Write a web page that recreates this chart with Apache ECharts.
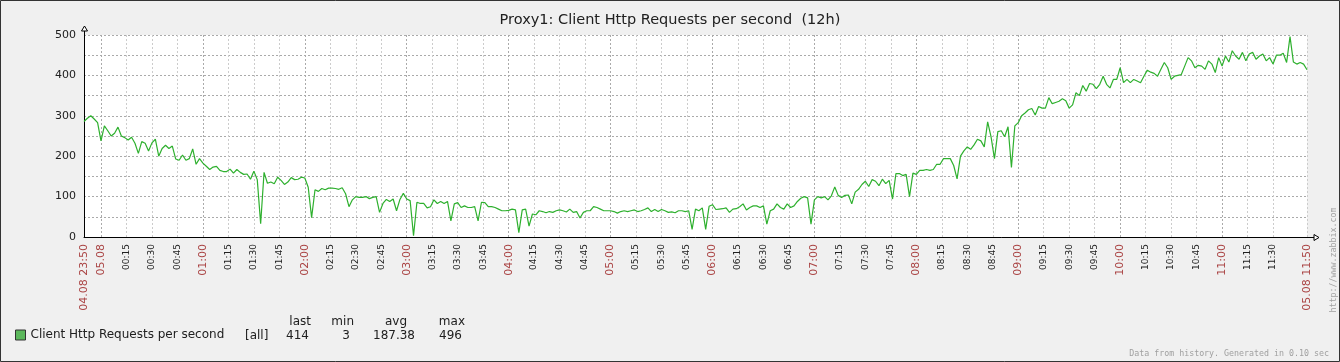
<!DOCTYPE html>
<html><head><meta charset="utf-8">
<script src="https://cdn.jsdelivr.net/npm/echarts@6/dist/echarts.min.js"></script>
<style>html,body{margin:0;padding:0;background:#f0f0f0}#c{width:1340px;height:362px}</style>
</head><body><div id="c"></div>
<script>
const chartTitle = 'Proxy1: Client Http Requests per second  (12h)';
const seriesName = 'Client Http Requests per second';
const stepMinutes = 2; // one value every 2 minutes starting 04.08 23:50
const values = [
286,294,300,292,283,
238,275,263,250,257,
272,250,246,240,247,
232,207,236,232,213,
233,242,200,219,227,
219,225,193,190,203,
190,194,218,180,194,
183,175,167,173,175,
165,162,162,168,158,
167,160,155,156,143,
163,142,33,160,133,
136,132,148,140,130,
136,147,142,143,148,
146,123,48,117,113,
120,117,121,121,120,
118,122,107,75,92,
100,98,98,100,95,
98,100,61,83,93,
88,94,65,93,108,
94,90,3,86,83,
83,72,75,92,83,
88,83,88,40,82,
85,73,77,73,73,
75,40,86,85,75,
75,73,69,65,65,
66,69,67,11,67,
69,27,57,55,65,
63,60,63,61,65,
67,65,62,69,61,
63,47,61,65,65,
75,73,69,65,65,
65,63,59,63,65,
63,65,67,63,65,
68,72,63,68,63,
68,65,61,62,60,
65,65,63,65,19,
69,65,72,19,76,
80,68,69,70,72,
61,69,70,75,82,
67,73,77,77,73,
77,32,65,69,82,
73,69,82,73,77,
88,96,100,97,32,
92,100,97,100,92,
102,124,103,98,103,
104,82,111,118,130,
138,125,142,138,127,
143,132,140,94,157,
157,152,155,100,158,
155,165,165,167,165,
167,180,180,194,194,
194,177,144,200,213,
223,217,228,242,238,
223,285,248,194,261,
263,248,273,172,275,
283,300,307,315,318,
302,323,319,319,345,
330,333,336,342,337,
319,327,357,350,375,
361,380,378,367,378,
398,378,369,390,390,
419,382,390,382,390,
386,382,398,413,408,
405,398,415,432,419,
390,398,400,402,423,
444,436,419,425,423,
415,436,428,407,444,
423,448,433,461,448,
440,457,436,453,457,
440,448,453,436,444,
428,450,450,455,432,
496,433,428,432,428,
414
];
const xLabels = ['04.08 23:50','05.08','00:15','00:30','00:45','01:00','01:15','01:30','01:45','02:00','02:15','02:30','02:45','03:00','03:15','03:30','03:45','04:00','04:15','04:30','04:45','05:00','05:15','05:30','05:45','06:00','06:15','06:30','06:45','07:00','07:15','07:30','07:45','08:00','08:15','08:30','08:45','09:00','09:15','09:30','09:45','10:00','10:15','10:30','10:45','11:00','11:15','11:30','05.08 11:50'];
const yTickLabels = [0,100,200,300,400,500];
const legendFunc = '[all]';
const statHeaders = ['last','min','avg','max'];
const statValues = ['414','3','187.38','496'];
const footerText = 'Data from history. Generated in 0.10 sec';
const urlText = 'http://www.zabbix.com';

const FONT = 'DejaVu Sans';
const MONO = 'DejaVu Sans Mono';
const startMin = 23*60+50;
const labelMinute = s => { const m = s.match(/(\d\d):(\d\d)$/); if (!m) return 10; return ((+m[1])*60 + (+m[2]) - startMin + 1440) % 1440; };
const labelAt = {}; xLabels.forEach(s => { labelAt[labelMinute(s)] = s; });
const isRed = s => s.includes('.') || s.endsWith(':00');
const labelMinutes = xLabels.map(labelMinute);
const xMax = (values.length - 1) * stepMinutes;
const majorMinutes = xLabels.filter(s => s === '05.08' || s.endsWith(':00')).map(labelMinute);
const minorMinutes = xLabels.filter(s => !s.includes('.') && !s.endsWith(':00')).map(labelMinute).concat([xMax]);
const data = values.map((v, i) => [i * stepMinutes, v]);

const chart = echarts.init(document.getElementById('c'), null, {renderer: 'canvas', width: 1340, height: 362});
chart.setOption({
  animation: false,
  backgroundColor: '#f0f0f0',
  title: {text: chartTitle, left: 'center', top: 13, padding: 0,
    textStyle: {fontFamily: FONT, fontSize: 14.5, fontWeight: 'normal', color: '#202020'}},
  grid: {left: 84, right: 33, top: 35, height: 202, show: true, backgroundColor: '#ffffff', borderWidth: 0},
  xAxis: [{
    type: 'value', min: 0, max: xMax, position: 'bottom',
    axisLine: {show: true, lineStyle: {color: '#000', width: 1}},
    axisTick: {show: false, customValues: minorMinutes},
    splitLine: {show: true, lineStyle: {color: '#cccccc', type: [2, 2], width: 1}},
    axisLabel: {customValues: labelMinutes, rotate: 90, margin: 7, showMinLabel: true, showMaxLabel: true,
      formatter: v => { const s = labelAt[Math.round(v)]; if (!s) return ''; return isRed(s) ? '{r|' + s + '}' : '{k|' + s + '}'; },
      rich: {r: {fontFamily: FONT, fontSize: 11, color: '#aa4444'}, k: {fontFamily: FONT, fontSize: 9, color: '#202020'}}}
  }, {
    type: 'value', min: 0, max: xMax, position: 'bottom',
    axisLine: {show: false}, axisLabel: {show: false},
    axisTick: {show: false, customValues: majorMinutes},
    splitLine: {show: true, lineStyle: {color: '#aaaaaa', type: [2, 2], width: 1}}
  }],
  yAxis: {
    type: 'value', min: 0, max: 500, interval: 50,
    axisLine: {show: true, lineStyle: {color: '#000', width: 1}},
    axisTick: {show: false},
    axisLabel: {margin: 8, fontFamily: FONT, fontSize: 11, color: '#202020',
      formatter: v => yTickLabels.includes(v) ? String(v) : ''},
    splitLine: {show: true, lineStyle: {color: '#aaaaaa', type: [2, 2], width: 1}}
  },
  legend: {left: 15, top: 329, padding: 0, itemWidth: 10, itemHeight: 10, icon: 'rect', selectedMode: false,
    textStyle: {fontFamily: FONT, fontSize: 12, color: '#202020'},
    data: [{name: seriesName, itemStyle: {color: '#5cb85c', borderColor: '#333', borderWidth: 1}}]},
  series: [{name: seriesName, type: 'line', xAxisIndex: 0, yAxisIndex: 0, data: data, symbol: 'none',
    lineStyle: {color: '#2eb02e', width: 1.2}, itemStyle: {color: '#2eb02e'}}]
});

const pTop = chart.convertToPixel({xAxisIndex: 0, yAxisIndex: 0}, [0, 500]);
const pRight = chart.convertToPixel({xAxisIndex: 0, yAxisIndex: 0}, [xMax, 0]);
const yx = Math.round(pTop[0]) + 0.5, yt = Math.round(pTop[1]);
const xr = Math.round(pRight[0]), xy = Math.round(pRight[1]) + 0.5;
const headerRight = [311, 354, 407, 465];
const valueRight = [309, 350, 415, 462];
const g = [];
g.push({type: 'line', silent: true, shape: {x1: yx, y1: yt, x2: yx, y2: yt - 4}, style: {stroke: '#000', lineWidth: 1}});
g.push({type: 'polygon', silent: true, shape: {points: [[yx - 3, yt - 4], [yx + 3, yt - 4], [yx, yt - 9]]}, style: {fill: '#fff', stroke: '#000', lineWidth: 1}});
g.push({type: 'line', silent: true, shape: {x1: xr, y1: xy, x2: xr + 7, y2: xy}, style: {stroke: '#000', lineWidth: 1}});
g.push({type: 'polygon', silent: true, shape: {points: [[xr + 7, xy - 3], [xr + 7, xy + 3], [xr + 12, xy]]}, style: {fill: '#fff', stroke: '#000', lineWidth: 1}});
g.push({type: 'text', silent: true, x: 245, y: 335.8, style: {text: legendFunc, font: '12px "' + FONT + '"', fill: '#202020', align: 'left', verticalAlign: 'middle'}});
statHeaders.forEach((h, i) => {
  g.push({type: 'text', silent: true, x: headerRight[i], y: 322, style: {text: h, font: '12px "' + FONT + '"', fill: '#202020', align: 'right', verticalAlign: 'middle'}});
  g.push({type: 'text', silent: true, x: valueRight[i], y: 335.8, style: {text: statValues[i], font: '12px "' + FONT + '"', fill: '#202020', align: 'right', verticalAlign: 'middle'}});
});
g.push({type: 'text', silent: true, x: 1329, y: 354, style: {text: footerText, font: '8.3px "' + MONO + '"', fill: '#a0a0a0', align: 'right', verticalAlign: 'middle'}});
g.push({type: 'text', silent: true, x: 1334, y: 260, rotation: Math.PI / 2, style: {text: urlText, font: '8.3px "' + MONO + '"', fill: '#a0a0a0', align: 'center', verticalAlign: 'middle'}});
g.push({type: 'rect', silent: true, z: 100, shape: {x: 0.5, y: 0.5, width: 1339, height: 361}, style: {fill: 'none', stroke: '#333', lineWidth: 1}});
chart.setOption({graphic: g});
</script></body></html>
